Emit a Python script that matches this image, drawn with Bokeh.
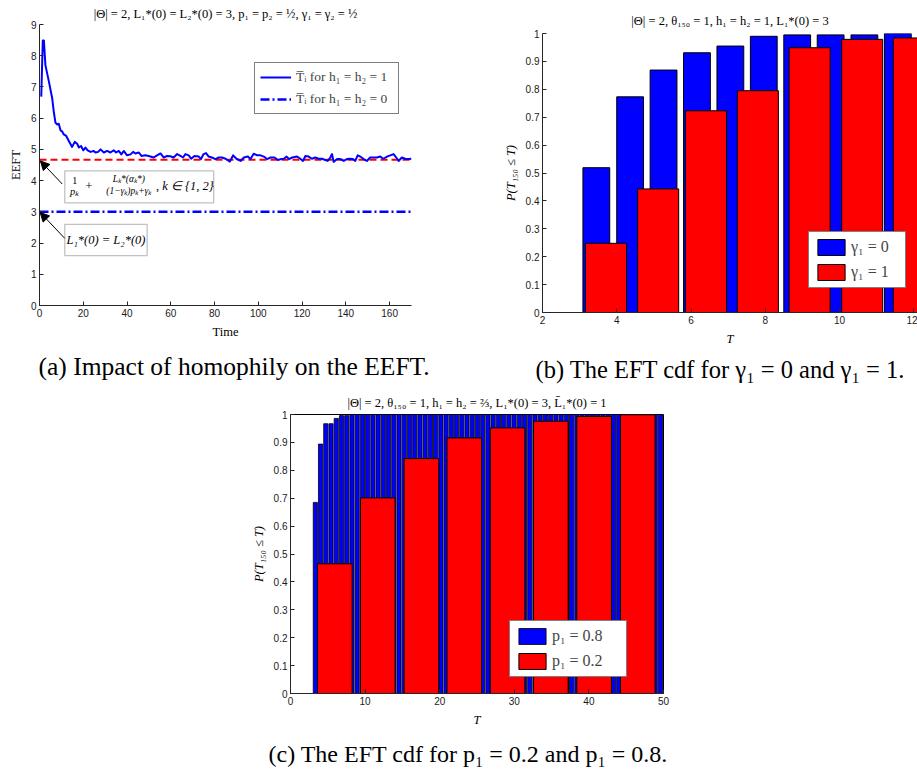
from bokeh.plotting import figure
from bokeh.models import (Range1d, Legend, LegendItem, Label, BoxAnnotation,
                          Title, Arrow, NormalHead, FixedTicker, Segment, ColumnDataSource)
from bokeh.layouts import column, row
from bokeh.embed import file_html
from bokeh.resources import INLINE

# ---------------- data ----------------
# (a) average EEFT over time with homophily h1 = h2 = 1
time_a = [0.8, 1.5, 2.0, 2.7, 4.3, 5.8, 6.5, 7.3, 8.1, 8.8, 9.6, 10.3, 11.1, 12.2, 13.4,
          14.9, 16.1, 17.2, 18.0, 19.0, 20.0, 21.0, 22.0, 23.3, 24.8, 25.6, 26.8, 27.9,
          29.4, 30.9, 32.4, 33.9, 35.0, 36.2, 37.4, 38.5, 40.0, 41.6, 42.8, 43.8, 45.4,
          46.6, 48.4, 49.9, 52.2, 53.7, 55.3, 56.8, 58.3, 59.8, 61.3, 62.9, 64.4, 65.6,
          66.7, 68.2, 69.3, 70.8, 72.8, 73.8, 75.0, 76.1, 77.3, 78.8, 80.4, 81.9, 83.4,
          85.0, 87.0, 88.5, 90.0, 91.9, 93.4, 95.2, 96.4, 97.9, 99.5, 101.0, 102.5, 104.0,
          105.6, 107.4, 109.0, 110.2, 111.7, 112.9, 114.0, 115.5, 117.7, 119.2, 120.4,
          121.5, 123.0, 124.5, 126.0, 127.6, 129.1, 130.6, 131.7, 132.9, 133.7, 134.4,
          136.0, 137.5, 139.0, 140.5, 141.7, 143.2, 144.3, 145.4, 146.6, 148.1, 149.6,
          151.1, 152.7, 154.2, 155.7, 157.2, 158.8, 160.3, 161.8, 163.0, 164.1, 165.6,
          167.1, 168.6, 170.0]
eeft_h1 = [6.69, 8.49, 8.49, 7.70, 7.17, 6.64, 6.22, 5.85, 5.80, 5.82, 5.61, 5.58, 5.48, 5.43,
           5.27, 5.08, 5.24, 5.18, 5.06, 5.11, 4.97, 5.06, 4.97, 4.92, 4.95, 4.90, 4.92, 5.00,
           4.90, 4.95, 4.90, 4.97, 4.90, 4.95, 4.84, 4.95, 4.81, 4.84, 4.92, 4.87, 4.90, 4.79,
           4.81, 4.79, 4.74, 4.81, 4.87, 4.74, 4.79, 4.78, 4.74, 4.85, 4.79, 4.74, 4.85, 4.81,
           4.70, 4.79, 4.77, 4.69, 4.85, 4.88, 4.77, 4.74, 4.69, 4.74, 4.74, 4.70, 4.61, 4.81,
           4.70, 4.63, 4.74, 4.77, 4.69, 4.86, 4.81, 4.81, 4.77, 4.69, 4.74, 4.74, 4.66, 4.69,
           4.70, 4.77, 4.69, 4.74, 4.77, 4.70, 4.63, 4.79, 4.77, 4.70, 4.74, 4.70, 4.70, 4.66,
           4.63, 4.74, 4.85, 4.60, 4.69, 4.69, 4.63, 4.69, 4.70, 4.69, 4.63, 4.81, 4.77, 4.69,
           4.63, 4.74, 4.74, 4.74, 4.77, 4.70, 4.77, 4.81, 4.85, 4.74, 4.63, 4.74, 4.70, 4.69,
           4.70]
eeft_limit = 4.67          # 1/p_k + L*_k(a*_k)/((1-g_k)p_k+g_k)
eeft_h0 = 3.0              # L*_1(0) = L*_2(0)
time_span = [0, 170]

# (b) EFT cdf for gamma_1 = 0 and gamma_1 = 1
b_g0_T = [3.45, 4.36, 5.26, 6.16, 7.06, 7.96, 8.86, 9.76, 10.67, 11.57]
b_g0_P = [0.519, 0.773, 0.869, 0.931, 0.955, 0.990, 0.995, 0.995, 0.995, 1.0]
b_g1_T = [3.71, 5.115, 6.405, 7.80, 9.195, 10.61, 12.0]
b_g1_P = [0.248, 0.443, 0.723, 0.795, 0.949, 0.979, 0.984]

# (c) EFT cdf for p_1 = 0.8 (fine bins) and p_1 = 0.2
c_p08_lo, c_p08_hi, c_p08_n = 2.98, 49.95, 67
c_p08_P = [0.685, 0.894, 0.967, 0.967, 0.986, 0.996, 0.996, 1.0, 1.0, 1.0,
           1.0, 1.0, 1.0, 1.0, 1.0, 1.0, 1.0, 1.0, 1.0, 1.0,
           1.0, 1.0, 1.0, 1.0, 1.0, 1.0, 1.0, 1.0, 1.0, 1.0,
           1.0, 1.0, 1.0, 1.0, 1.0, 1.0, 1.0, 1.0, 1.0, 1.0,
           1.0, 1.0, 1.0, 1.0, 1.0, 1.0, 1.0, 1.0, 1.0, 1.0,
           1.0, 1.0, 1.0, 1.0, 1.0, 1.0, 1.0, 1.0, 1.0, 1.0,
           1.0, 1.0, 1.0, 1.0, 1.0, 1.0, 1.0]
c_p02_T = [5.94, 11.7, 17.55, 23.3, 29.1, 34.9, 40.7, 46.55]
c_p02_P = [0.465, 0.701, 0.842, 0.916, 0.952, 0.976, 0.993, 0.999]

prob_ticks = [0, 0.1, 0.2, 0.3, 0.4, 0.5, 0.6, 0.7, 0.8, 0.9, 1]
prob_labels = ["0", "0.1", "0.2", "0.3", "0.4", "0.5", "0.6", "0.7", "0.8", "0.9", "1"]

# ---------------- styling helpers ----------------
SERIF = "Liberation Serif"
SANS = "Liberation Sans"
BLUE = "#0000ff"
RED = "#ff0000"


def make_fig(width, height, xr, yr, title, title_standoff, **borders):
    p = figure(width=width, height=height, x_range=Range1d(*xr), y_range=Range1d(*yr),
               output_backend="svg", toolbar_location=None, title=title, **borders)
    p.frame_align = False
    p.title.align = "center"
    p.title.text_font = SERIF
    p.title.text_font_size = "12.5px"
    p.title.text_font_style = "normal"
    p.title.text_color = "black"
    p.title.standoff = title_standoff
    p.grid.visible = False
    p.background_fill_color = "white"
    p.border_fill_color = "white"
    for ax in (p.xaxis[0], p.yaxis[0]):
        ax.major_tick_in = 4
        ax.major_tick_out = 0
        ax.minor_tick_line_color = None
        ax.axis_line_color = "#262626"
        ax.major_tick_line_color = "#262626"
        ax.major_label_text_font = SANS
        ax.major_label_text_font_size = "10px"
        ax.major_label_text_color = "#1a1a1a"
        ax.major_label_standoff = 3
        ax.axis_label_text_font = SERIF
        ax.axis_label_text_font_size = "12.5px"
        ax.axis_label_text_font_style = "normal"
        ax.axis_label_text_color = "black"
        ax.axis_label_standoff = 5
    return p


def add_caption(p, text, standoff, offset, size="24px"):
    # sub-figure caption under the x axis, left aligned
    p.add_layout(Title(text=text, align="left", offset=offset, standoff=standoff,
                       text_font=SERIF, text_font_size=size, text_font_style="normal",
                       text_color="black"), "below")


def prob_axis(p):
    p.yaxis.ticker = FixedTicker(ticks=prob_ticks)
    p.yaxis.major_label_overrides = dict(zip(prob_ticks, prob_labels))


def bar_legend(p, items, loc, label_width):
    leg = Legend(items=items, location=loc, padding=5, spacing=5, glyph_width=34,
                 glyph_height=20, label_standoff=3, label_width=label_width,
                 label_text_font=SERIF, label_text_font_size="16px",
                 border_line_color="black", border_line_width=1.5,
                 background_fill_alpha=1, margin=0)
    p.add_layout(leg)


# ---------------- (a) ----------------
pa = make_fig(480, 388, (0, 170), (0, 9),
              "|Θ| = 2, L₁*(0) = L₂*(0) = 3, p₁ = p₂ = ½, γ₁ = γ₂ = ½", 7,
              min_border_left=39, min_border_right=69, min_border_top=24,
              min_border_bottom=80)
pa.outline_line_color = None
pa.xaxis.ticker = FixedTicker(ticks=[0, 20, 40, 60, 80, 100, 120, 140, 160])
pa.yaxis.ticker = FixedTicker(ticks=[0, 1, 2, 3, 4, 5, 6, 7, 8, 9])
pa.xaxis.axis_label = "Time"
pa.yaxis.axis_label = "EEFT"

pa.line(time_span, [eeft_limit, eeft_limit], line_color=RED, line_width=2, line_dash="7 4")
r_h0 = pa.line(time_span, [eeft_h0, eeft_h0], line_color=BLUE, line_width=2.5,
               line_dash="9 3 2 3")
r_h1 = pa.line(time_a, eeft_h1, line_color=BLUE, line_width=2, line_join="round")

leg_a = Legend(items=[LegendItem(label="T̅ᵢ for h₁ = h₂ = 1", renderers=[r_h1]),
                      LegendItem(label="T̅ᵢ for h₁ = h₂ = 0", renderers=[r_h0])],
               location=(215, 191), padding=5, spacing=4, glyph_width=31, glyph_height=18,
               label_standoff=5, label_width=97, label_text_font=SERIF,
               label_text_font_size="13.5px", border_line_color="black",
               border_line_width=1.5, background_fill_alpha=1, margin=0)
pa.add_layout(leg_a)

# annotation boxes with arrows pointing to the two limits
box_kw = dict(fill_color="white", fill_alpha=1, line_color="#333333", line_width=1.3)
pa.add_layout(BoxAnnotation(left=11.55, right=79.6, bottom=3.29, top=4.31, **box_kw))
pa.add_layout(BoxAnnotation(left=11.55, right=49.2, bottom=1.60, top=2.60, **box_kw))

frac_bars = ColumnDataSource(dict(x0=[14.6, 27.9], x1=[17.6, 53.8], y=[3.865, 3.885]))
pa.add_glyph(frac_bars, Segment(x0="x0", y0="y", x1="x1", y1="y", line_color="black",
                                line_width=0.8))


def note(x, y, text, size, style="normal"):
    pa.add_layout(Label(x=x, y=y, text=text, text_font=SERIF, text_font_size=size,
                        text_font_style=style, text_align="center", text_baseline="middle",
                        text_color="black"))


note(16.1, 3.99, "1", "10px")
note(16.1, 3.66, "pₖ", "10.5px", "italic")
note(22.6, 3.84, "+", "12px")
note(40.8, 4.06, "Lₖ*(αₖ*)", "9.5px", "italic")
note(40.8, 3.67, "(1−γₖ)pₖ+γₖ", "9.5px", "italic")
note(66.4, 3.82, ", k ∈ {1, 2}", "12.5px", "italic")
note(30.4, 2.10, "L₁*(0) = L₂*(0)", "12.5px", "italic")

head_kw = dict(size=9, fill_color="black", line_color="black")
pa.add_layout(Arrow(end=NormalHead(**head_kw), x_start=10.4, y_start=3.89, x_end=0.4,
                    y_end=eeft_limit - 0.04, line_color="black", line_width=1))
pa.add_layout(Arrow(end=NormalHead(**head_kw), x_start=11.55, y_start=2.15, x_end=0.3,
                    y_end=eeft_h0 - 0.02, line_color="black", line_width=1))

add_caption(pa, "(a) Impact of homophily on the EEFT.", 16, -1, "25.5px")

# ---------------- (b) ----------------
pb = make_fig(437, 388, (2, 12.1), (0, 1), "|Θ| = 2, θ₁₅₀ = 1, h₁ = h₂ = 1, L₁*(0) = 3", 12,
              min_border_left=62, min_border_right=0, min_border_top=33,
              min_border_bottom=75)
pb.outline_line_color = None
pb.xaxis.ticker = FixedTicker(ticks=[2, 4, 6, 8, 10, 12])
prob_axis(pb)
pb.xaxis.axis_label = "T"
pb.xaxis.axis_label_text_font_style = "italic"
pb.yaxis.axis_label = "P(T₁₅₀ ≤ T)"
pb.yaxis.axis_label_text_font_style = "italic"

w_b0 = 0.8 * (b_g0_T[-1] - b_g0_T[0]) / (len(b_g0_T) - 1)
w_b1 = 0.8 * (b_g1_T[-1] - b_g1_T[0]) / (len(b_g1_T) - 1)
rb0 = pb.vbar(x=b_g0_T, top=b_g0_P, width=w_b0, bottom=0, fill_color=BLUE,
              line_color="black", line_width=1)
rb1 = pb.vbar(x=b_g1_T, top=b_g1_P, width=w_b1, bottom=0, fill_color=RED,
              line_color="black", line_width=1)
bar_legend(pb, [LegendItem(label="γ₁ = 0", renderers=[rb0]),
                LegendItem(label="γ₁ = 1", renderers=[rb1])], (266, 24), 49)
add_caption(pb, "(b) The EFT cdf for γ₁ = 0 and γ₁ = 1.", 11, -7, "24.5px")

# ---------------- (c) ----------------
pc = make_fig(917, 387, (0, 50), (0, 1),
              "|Θ| = 2, θ₁₅₀ = 1, h₁ = h₂ = ⅔, L₁*(0) = 3, L̄₁*(0) = 1", 10,
              min_border_left=290, min_border_right=254, min_border_top=25,
              min_border_bottom=82)
pc.outline_line_color = "black"
pc.outline_line_width = 1
pc.xaxis.ticker = FixedTicker(ticks=[0, 10, 20, 30, 40, 50])
prob_axis(pc)
pc.xaxis.axis_label = "T"
pc.xaxis.axis_label_text_font_style = "italic"
pc.yaxis.axis_label = "P(T₁₅₀ ≤ T)"
pc.yaxis.axis_label_text_font_style = "italic"

c_step = (c_p08_hi - c_p08_lo) / c_p08_n
c_p08_T = [c_p08_lo + (i + 0.5) * c_step for i in range(c_p08_n)]
w_c1 = 0.8 * (c_p02_T[-1] - c_p02_T[0]) / (len(c_p02_T) - 1)
rc0 = pc.vbar(x=c_p08_T, top=c_p08_P, width=0.8 * c_step, bottom=0, fill_color=BLUE,
              line_color="black", line_width=0.8)
rc1 = pc.vbar(x=c_p02_T, top=c_p02_P, width=w_c1, bottom=0, fill_color=RED,
              line_color="black", line_width=1)
bar_legend(pc, [LegendItem(label="p₁ = 0.8", renderers=[rc0]),
                LegendItem(label="p₁ = 0.2", renderers=[rc1])], (219, 16), 69)
add_caption(pc, "(c) The EFT cdf for p₁ = 0.2 and p₁ = 0.8.", 18, -22)

layout = column(row(pa, pb), pc)
open("out.html", "w").write(file_html(layout, INLINE))
